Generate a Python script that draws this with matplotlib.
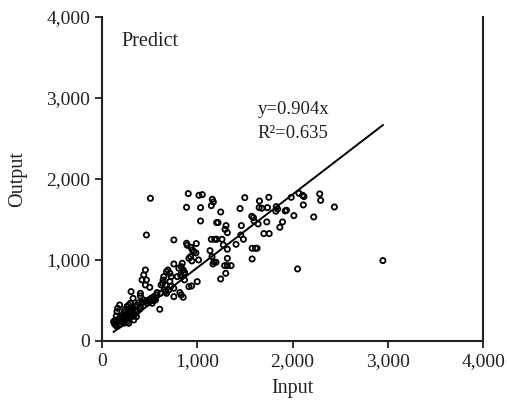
import matplotlib
matplotlib.use("Agg")
import matplotlib.pyplot as plt
from matplotlib.ticker import StrMethodFormatter
import numpy as np

plt.rcParams['font.family'] = ['Liberation Serif', 'DejaVu Serif']

# scatter values (Input, Output)
input_vals = [
    509, 467, 906, 888, 1018, 1053, 1035, 1035, 1158, 1169, 1148, 1246, 1204, 1218,
    1302, 1292, 1316, 1148, 1183, 1204, 1260, 1274, 1316, 1407, 1449, 1463, 1499, 1485,
    1572, 1590, 1597, 1653, 1650, 1678, 1751, 1737, 1829, 1843, 1825, 1730, 1699, 1755,
    1639, 1895, 1867, 1923, 1937, 1986, 2067, 2106, 2120, 2113, 2014, 2222, 2285, 2295,
    2439, 1576, 1611, 1628, 1576, 2053, 2948,
    755, 990, 986, 965, 948, 934, 888, 895, 930, 944, 1014, 1134, 1155, 1176, 1165, 1197,
    1316, 1316, 1355, 1288, 1299, 1246, 755, 692, 678, 649, 642, 713, 727, 832, 853, 867,
    825, 839, 867, 913, 941, 1000, 755, 755, 818, 832, 853, 727, 636, 621, 667, 456, 439,
    421, 467, 456, 502, 306, 404, 404, 607, 579, 544, 516, 491, 456, 327, 299, 281, 264,
    186, 165, 158, 151, 141, 130, 176, 193, 221, 235, 246, 264, 281, 299, 327, 351, 369,
    386, 211, 186, 158, 246, 264, 292, 316, 341, 228, 281, 334, 362, 421, 439, 527, 562,
    614, 656, 702, 678, 572, 123, 141, 200, 221, 256, 306, 369, 397, 316, 274, 239, 351,
    404, 474, 502, 544, 667, 713, 790, 807, 843, 860, 913, 1457,
]
output_vals = [
    1761, 1308, 1819, 1650, 1798, 1806, 1646, 1481, 1749, 1716, 1670, 1592, 1461, 1461,
    1424, 1378, 1337, 1255, 1255, 1255, 1255, 1185, 1132, 1193, 1634, 1424, 1769, 1255,
    1539, 1522, 1481, 1728, 1646, 1638, 1773, 1646, 1658, 1629, 1601, 1469, 1325, 1325,
    1444, 1469, 1403, 1605, 1613, 1773, 1823, 1798, 1782, 1679, 1547, 1531, 1815, 1736,
    1654, 1144, 1144, 1144, 1012, 889, 992,
    1247, 1202, 1086, 1103, 1123, 1156, 1206, 1181, 1041, 988, 1000, 1115, 1041, 975, 950, 971,
    1020, 930, 930, 930, 835, 765, 950, 876, 856, 794, 753, 835, 794, 917, 876, 847,
    815, 794, 753, 671, 679, 732, 650, 547, 597, 568, 539, 679, 712, 691, 691, 876, 815,
    753, 753, 691, 662, 609, 588, 555, 391, 597, 547, 526, 506, 485, 526, 465, 444, 424,
    444, 403, 362, 308, 259, 218, 259, 300, 321, 350, 308, 333, 362, 383, 403, 424, 444,
    473, 238, 197, 177, 259, 238, 280, 300, 321, 218, 218, 259, 300, 473, 506, 465, 506,
    588, 630, 630, 588, 568, 238, 197, 280, 267, 280, 333, 362, 391, 362, 391, 383, 383,
    424, 465, 485, 497, 609, 733, 794, 897, 959, 835, 1020, 1308,
]
slope = 0.904
r2 = 0.635

x = np.array(input_vals)
y = np.array(output_vals)
fit_x = np.array([x.min(), x.max()])
fit_y = slope * fit_x

fig = plt.figure(figsize=(5.07, 4.03), dpi=100)
ax = fig.add_axes([0.201, 0.154, 0.752, 0.804])

ax.scatter(x, y, s=14, facecolors='none', edgecolors='black', linewidths=1.3, zorder=3)
ax.plot(fit_x, fit_y, color='black', linewidth=1.4, zorder=4)

ax.set_xlim(0, 4000)
ax.set_ylim(0, 4000)
ax.set_xticks([0, 1000, 2000, 3000, 4000])
ax.set_yticks([0, 1000, 2000, 3000, 4000])
ax.xaxis.set_major_formatter(StrMethodFormatter('{x:,.0f}'))
ax.yaxis.set_major_formatter(StrMethodFormatter('{x:,.0f}'))
ax.tick_params(direction='out', length=5, width=1.3, labelsize=14,
               color='#222222', labelcolor='#222222')

for side in ['left', 'bottom', 'right']:
    ax.spines[side].set_linewidth(1.5)
    ax.spines[side].set_color('#222222')
ax.spines['top'].set_visible(False)

ax.set_xlabel('Input', fontsize=14.5, labelpad=7, color='#222222')
ax.set_ylabel('Output', fontsize=14.5, labelpad=14, color='#222222')

ax.text(0.05, 0.925, 'Predict', transform=ax.transAxes, fontsize=14.5,
        va='center', ha='left', color='#222222')
ax.text(0.409, 0.713, 'y={:.3f}x'.format(slope), transform=ax.transAxes, fontsize=13.5,
        va='center', ha='left', color='#222222')
ax.text(0.407, 0.639, 'R\u00b2={:.3f}'.format(r2), transform=ax.transAxes, fontsize=13.5,
        va='center', ha='left', color='#222222')

fig.savefig('out.png', dpi=100)
